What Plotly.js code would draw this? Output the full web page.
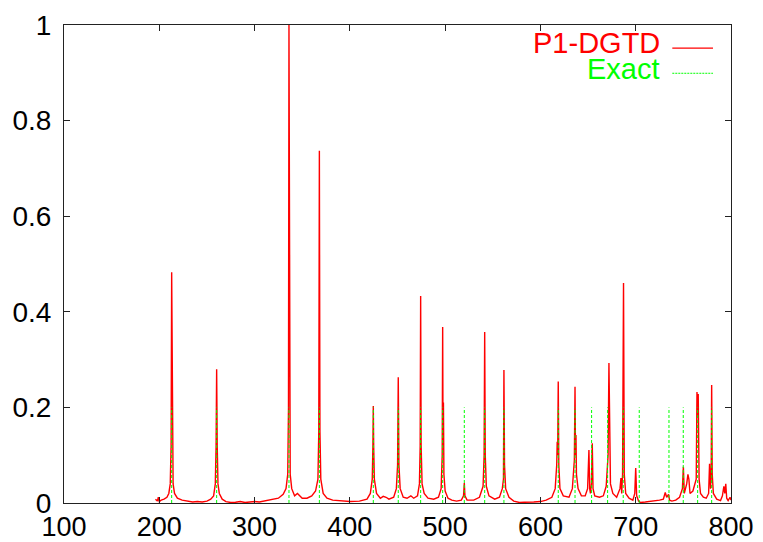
<!DOCTYPE html>
<html>
<head>
<meta charset="utf-8">
<script src="https://cdn.plot.ly/plotly-3.0.1.min.js"></script>
<style>
html,body{margin:0;padding:0;background:#fff;}
#chart{width:763px;height:542px;}
</style>
</head>
<body>
<div id="chart"></div>
<script>
// Exact eigenfrequencies (green dashed impulses, height 0.2)
var exactFreq = [213.0, 260.2, 336.1, 368.0, 424.6, 450.8, 474.3, 497.4, 520.1, 541.5,
                 561.7, 618.7, 636.3, 653.7, 670.5, 686.9, 703.7, 734.9, 749.9, 765.0, 779.7];
var exactAmp = 0.2;

// P1-DGTD spectrum (red)
var dgtdFreq = [196, 198, 199, 200, 202, 205, 208, 210, 211.5, 212.4, 213, 213.6, 214.5, 216, 219, 224, 230, 235, 240, 245,
  250, 254, 257, 258.8, 259.6, 260.2, 260.8, 261.6, 263, 266, 270, 275, 280, 285, 290, 295, 300, 305, 310, 318,
  325, 330, 333, 334.8, 335.6, 336.1, 336.6, 337.4, 339, 342, 345, 350, 355, 360, 364, 366.5, 367.4, 368, 368.6, 369.5,
  372, 376, 382, 390, 400, 410, 418, 421.5, 423.5, 424.2, 424.6, 425, 425.7, 428, 432, 435, 438, 441, 446, 448.8,
  450.1, 450.8, 451.5, 452.8, 456, 460, 464, 467, 471, 473, 473.8, 474.3, 474.8, 475.8, 478, 482, 488, 493, 495.8, 496.9,
  497.4, 497.8, 498.2, 498.7, 500, 503, 507, 512, 517, 519.3, 520.1, 520.8, 523, 530, 536, 539.8, 540.9, 541.5, 542.1, 543.2,
  546, 552, 557, 560, 561.2, 561.7, 562.3, 563.5, 567, 572, 578, 583, 588, 593, 600, 606, 612, 615.5, 617.1, 617.6,
  618.1, 618.7, 619.3, 620.5, 624, 630, 633.5, 635.6, 636.3, 636.8, 637.3, 637.8, 639.5, 643, 647, 649.5, 650.9, 651.7, 652.5, 653.5,
  654.4, 655.2, 657, 662, 666, 669, 671, 671.9, 672.5, 673.5, 676, 680, 683.5, 684.5, 685.3, 686.2, 687.2, 688, 689.5, 693,
  697, 699, 700, 701, 703, 705, 710, 715, 720, 725, 729, 731, 732.5, 734.5, 735.5, 738, 742, 746, 749, 750,
  751, 753.5, 754.8, 755.8, 757, 760, 763.5, 764.3, 765, 765.6, 766.5, 768, 771, 774, 776.5, 777.5, 778.5, 779.2, 779.7, 780.3,
  781.5, 785, 789, 791, 792.5, 793.5, 794.5, 795.5, 797, 799, 800];
var dgtdAmp = [0.008, 0.004, 0.012, 0.003, 0.006, 0.008, 0.012, 0.02, 0.04, 0.12, 0.483, 0.12, 0.04, 0.02, 0.01, 0.006, 0.003, 0.002, 0.003, 0.002,
  0.004, 0.008, 0.015, 0.04, 0.12, 0.28, 0.12, 0.04, 0.02, 0.008, 0.003, 0.001, 0.0015, 0.003, 0.001, 0.002, 0.003, 0.002, 0.004, 0.006,
  0.01, 0.018, 0.03, 0.06, 0.2, 1.0, 0.2, 0.06, 0.03, 0.015, 0.02, 0.01, 0.01, 0.015, 0.025, 0.05, 0.15, 0.737, 0.15, 0.05,
  0.02, 0.01, 0.006, 0.004, 0.003, 0.004, 0.008, 0.02, 0.05, 0.12, 0.203, 0.12, 0.05, 0.02, 0.01, 0.014, 0.012, 0.008, 0.012, 0.03,
  0.08, 0.263, 0.08, 0.03, 0.012, 0.01, 0.015, 0.01, 0.015, 0.04, 0.12, 0.433, 0.12, 0.04, 0.02, 0.01, 0.008, 0.012, 0.03, 0.1,
  0.368, 0.12, 0.21, 0.06, 0.025, 0.01, 0.006, 0.004, 0.006, 0.015, 0.042, 0.015, 0.006, 0.006, 0.012, 0.035, 0.1, 0.358, 0.1, 0.035,
  0.015, 0.008, 0.012, 0.03, 0.05, 0.278, 0.08, 0.03, 0.012, 0.004, 0.001, 0.0015, 0.001, 0.002, 0.003, 0.006, 0.012, 0.03, 0.08, 0.128,
  0.1, 0.254, 0.08, 0.03, 0.015, 0.012, 0.03, 0.09, 0.243, 0.1, 0.142, 0.06, 0.03, 0.015, 0.015, 0.03, 0.111, 0.03, 0.02, 0.04,
  0.125, 0.03, 0.015, 0.012, 0.015, 0.035, 0.1, 0.293, 0.117, 0.04, 0.02, 0.012, 0.03, 0.052, 0.02, 0.06, 0.46, 0.06, 0.02, 0.01,
  0.006, 0.02, 0.073, 0.015, 0.004, 0.001, 0.002, 0.003, 0.004, 0.006, 0.008, 0.022, 0.012, 0.018, 0.006, 0.004, 0.006, 0.012, 0.03, 0.076,
  0.02, 0.04, 0.06, 0.05, 0.02, 0.025, 0.05, 0.232, 0.18, 0.228, 0.05, 0.02, 0.012, 0.01, 0.02, 0.082, 0.03, 0.06, 0.247, 0.06,
  0.02, 0.008, 0.005, 0.015, 0.035, 0.02, 0.04, 0.01, 0.005, 0.012, 0.006];

var xTicks = [100, 200, 300, 400, 500, 600, 700, 800];
var yTicks = [0, 0.2, 0.4, 0.6, 0.8, 1];
var yTickText = ['0', '0.2', '0.4', '0.6', '0.8', '1'];

var exX = [], exY = [];
exactFreq.forEach(function (f) {
  exX.push(f, f, null);
  exY.push(0, exactAmp, null);
});

var FONT = '"Liberation Sans", Arial, Helvetica, sans-serif';

var traces = [
  {x: dgtdFreq, y: dgtdAmp, mode: 'lines', name: 'P1-DGTD',
   line: {color: '#ff0000', width: 1.4}, hoverinfo: 'skip'},
  {x: exX, y: exY, mode: 'lines', name: 'Exact',
   line: {color: '#00ff00', width: 1, dash: '3px,2px'}, hoverinfo: 'skip'}
];

var axisCommon = {
  showgrid: false, zeroline: false, showline: true, linecolor: '#222', linewidth: 1,
  mirror: 'ticks', ticks: 'inside', ticklen: 6, tickwidth: 1, tickcolor: '#222',
  tickfont: {family: FONT, size: 27, color: '#000'}
};

var layout = {
  width: 763, height: 542,
  margin: {l: 64, r: 32, t: 25, b: 39, pad: 0},
  paper_bgcolor: '#fff', plot_bgcolor: '#fff',
  showlegend: false,
  xaxis: Object.assign({}, axisCommon, {range: [100, 800], tickvals: xTicks, ticklabelstandoff: 0}),
  yaxis: Object.assign({}, axisCommon, {range: [0, 1], tickvals: yTicks, ticktext: yTickText, ticklabelstandoff: 6,
    tickfont: {family: FONT, size: 28, color: '#000'}}),
  annotations: [
    {xref: 'paper', yref: 'paper', x: 0.897, y: 0.962, xanchor: 'right', yanchor: 'middle',
     text: 'P1-DGTD', showarrow: false, font: {family: FONT, size: 29, color: '#ff0000'}},
    {xref: 'paper', yref: 'paper', x: 0.897, y: 0.908, xanchor: 'right', yanchor: 'middle',
     text: 'Exact', showarrow: false, font: {family: FONT, size: 29, color: '#00ff00'}}
  ],
  shapes: [
    {type: 'line', xref: 'paper', yref: 'paper', x0: 0.912, x1: 0.973, y0: 0.9517, y1: 0.9517,
     line: {color: '#ff0000', width: 1.2}},
    {type: 'line', xref: 'paper', yref: 'paper', x0: 0.912, x1: 0.973, y0: 0.899, y1: 0.899,
     line: {color: '#00ff00', width: 1, dash: '2px,1px'}}
  ]
};

Plotly.newPlot('chart', traces, layout, {staticPlot: true, displayModeBar: false});
</script>
</body>
</html>
